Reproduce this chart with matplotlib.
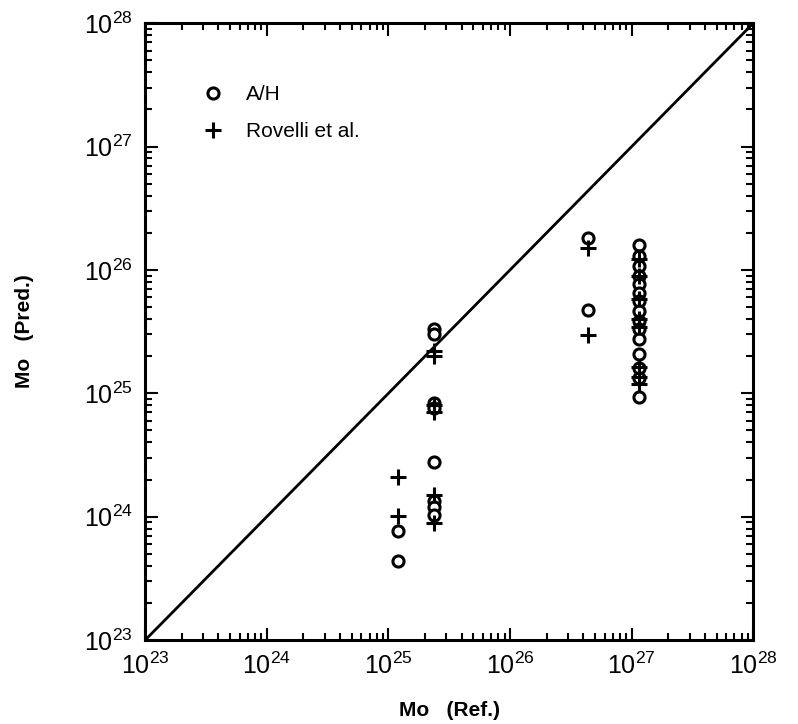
import math
import matplotlib
matplotlib.use("Agg")
import matplotlib.pyplot as plt
from matplotlib.ticker import LogLocator, FixedLocator, FuncFormatter, NullFormatter

plt.rcParams['font.family'] = ['Liberation Sans', 'DejaVu Sans']
plt.rcParams['mathtext.fontset'] = 'custom'
plt.rcParams['mathtext.rm'] = 'Liberation Sans'

# A/H predictions (open circles)
ah_ref = [1.2e25, 1.2e25,
          2.35e25, 2.35e25, 2.35e25, 2.35e25, 2.35e25, 2.35e25, 2.35e25, 2.35e25,
          4.4e26, 4.4e26,
          1.15e27, 1.15e27, 1.15e27, 1.15e27, 1.15e27, 1.15e27, 1.15e27, 1.15e27,
          1.15e27, 1.15e27, 1.15e27, 1.15e27, 1.15e27, 1.15e27, 1.15e27]
ah_pred = [7.7e23, 4.4e23,
           3.3e25, 3.0e25, 8.3e24, 7.6e24, 2.75e24, 1.35e24, 1.2e24, 1.04e24,
           1.82e26, 4.7e25,
           1.6e26, 1.3e26, 1.08e26, 8.97e25, 7.73e25, 6.5e25, 5.6e25, 4.68e25,
           3.88e25, 3.34e25, 2.77e25, 2.1e25, 1.59e25, 1.32e25, 9.25e24]

# Rovelli et al. predictions (plus)
rov_ref = [1.2e25, 1.2e25,
           2.35e25, 2.35e25, 2.35e25, 2.35e25, 2.35e25, 2.35e25,
           4.4e26, 4.4e26,
           1.15e27, 1.15e27, 1.15e27, 1.15e27, 1.15e27, 1.15e27, 1.15e27, 1.15e27]
rov_pred = [2.1e24, 1.02e24,
            2.2e25, 2.0e25, 8.0e24, 7.0e24, 1.5e24, 8.8e23,
            1.5e26, 2.95e25,
            1.23e26, 8.97e25, 5.85e25, 4.0e25, 3.46e25, 1.62e25, 1.35e25, 1.2e25]

lims = [1e23, 1e28]
decades = [23, 24, 25, 26, 27, 28]

fig = plt.figure(figsize=(7.98, 7.24), dpi=100)
ax = fig.add_axes([0.182, 0.116, 0.762, 0.852])

ax.plot(lims, lims, color='black', lw=2)
ax.plot(ah_ref, ah_pred, 'o', ms=8, mfc='white', mec='black', mew=2.2,
        ls='none', label='A/H')
ax.plot(rov_ref, rov_pred, '+', ms=11, mec='black', mew=2.2,
        ls='none', label='Rovelli et al.')

ax.set_xscale('log')
ax.set_yscale('log')
ax.set_xlim(lims)
ax.set_ylim(lims)

fmt = FuncFormatter(lambda v, p: r'$\mathregular{10^{%d}}$' % round(math.log10(v)))
for axis in (ax.xaxis, ax.yaxis):
    axis.set_major_locator(FixedLocator([10.0 ** d for d in decades]))
    axis.set_minor_locator(LogLocator(base=10, subs=range(2, 10), numticks=20))
    axis.set_major_formatter(fmt)
    axis.set_minor_formatter(NullFormatter())

ax.tick_params(which='both', direction='in', top=True, right=True, width=1.5)
ax.tick_params(which='major', length=9, labelsize=18, pad=9)
ax.tick_params(which='minor', length=5)
for s in ax.spines.values():
    s.set_linewidth(2.2)

ax.set_xlabel('Mo   (Ref.)', fontsize=15, fontweight='bold', labelpad=16)
ax.set_ylabel('Mo   (Pred.)', fontsize=15, fontweight='bold', labelpad=36)

leg = ax.legend(loc='upper left', bbox_to_anchor=(0.06, 0.93), frameon=False,
                fontsize=15, handletextpad=1.0, labelspacing=0.85, handlelength=1.2)

fig.savefig('out.png', dpi=100)
